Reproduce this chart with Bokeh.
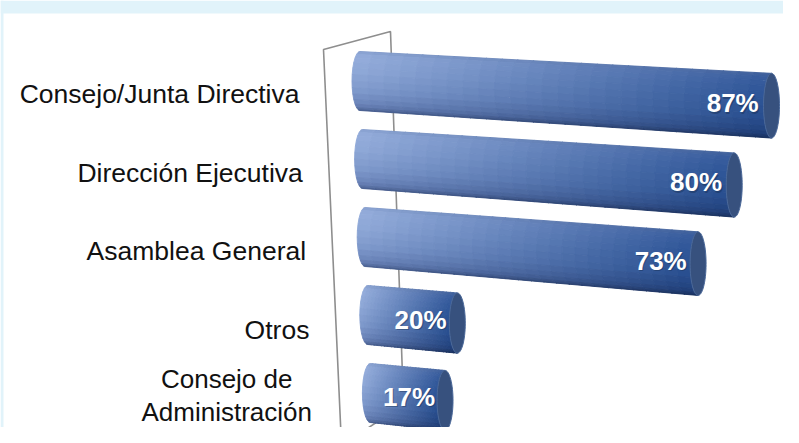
import numpy as np
from bokeh.plotting import figure
from bokeh.models import Range1d, ColumnDataSource
from bokeh.core.properties import value
from bokeh.embed import file_html
from bokeh.resources import INLINE

# ---------------- data ----------------
categories = ["Consejo/Junta Directiva", "Dirección Ejecutiva", "Asamblea General",
              "Otros", "Consejo de\nAdministración"]
values = [87, 80, 73, 20, 17]
value_labels = ["87%", "80%", "73%", "20%", "17%"]

# ---------------- view geometry (3D look) ----------------
W, H = 783, 427
X0, KX = 359.5, 4.73      # x scale: pixels per percent
Y0, KY = 80.5, 78.0       # y scale: pixels per category step
A = 8.0                   # ellipse semi-axis of cylinder ends

def to_data(X, Y):
    return (np.asarray(X, dtype=float) - X0) / KX, (np.asarray(Y, dtype=float) - Y0) / KY

def row_geom(i):
    return X0 + 2.6 * i, KX - 0.085 * i, Y0 + KY * i, 0.06 + 0.01 * i

def axis_pt(i, v):
    XL, k, YL, s = row_geom(i)
    dx = k * np.asarray(v, dtype=float)
    return XL + dx, YL + s * dx, 29.5 + 0.007 * dx

def surf(i, v, phi):
    Xa, Yc, h = axis_pt(i, v)
    return Xa - A * np.sin(phi), Yc - h * np.cos(phi)

PHI_S = np.linspace(0, 1, 6)
LEFT = np.array([(128, 153, 200), (150, 174, 220), (144, 169, 216),
                 (129, 155, 205), (106, 131, 184), (68, 90, 138)], float)
RIGHT = np.array([(70, 100, 155), (54, 91, 157), (45, 84, 150),
                  (40, 78, 143), (33, 65, 124), (22, 44, 88)], float)

def body_color(t, f):
    l = np.array([np.interp(f, PHI_S, LEFT[:, c]) for c in range(3)])
    r = np.array([np.interp(f, PHI_S, RIGHT[:, c]) for c in range(3)])
    c = l + (r - l) * t
    return "#%02x%02x%02x" % tuple(int(round(x)) for x in c)

xr = to_data([0, W], [0, 0])[0]
yr = to_data([0, 0], [H, 0])[1]
p = figure(width=W, height=H, x_range=Range1d(xr[0], xr[1]), y_range=Range1d(yr[0], yr[1]),
           output_backend="svg", toolbar_location=None, min_border=0)
p.axis.visible = False
p.grid.visible = False
p.outline_line_color = None
p.background_fill_color = "white"
p.border_fill_color = "white"

# light blue frame (top band and thin left strip)
bx, by = to_data([0, W], [0, 13])
p.quad(left=bx[0], right=bx[1], top=by[0], bottom=by[1], fill_color="#e1f3fa", line_color=None)
sx_, sy_ = to_data([0, 3], [0, H])
p.quad(left=sx_[0], right=sx_[1], top=sy_[0], bottom=sy_[1], fill_color="#e1f3fa", line_color=None)

# side wall outline
wx, wy = to_data([341, 323, 390, 403, 341], [445, 49, 31, 404, 445])
p.line(wx, wy, line_color="#8e8e8e", line_width=1.6)

# cylinders
NX, NY = 26, 14
xs, ys, cols = [], [], []
cap_xs, cap_ys = [], []
for i, val in enumerate(values):
    for a in range(NX):
        v0, v1 = val * a / NX, val * (a + 1) / NX
        t = (a + 0.5) / NX
        for b in range(NY):
            f0, f1 = b / NY, (b + 1) / NY
            p0, p1 = np.pi * f0, np.pi * f1
            c00, c10 = surf(i, v0, p0), surf(i, v1, p0)
            c11, c01 = surf(i, v1, p1), surf(i, v0, p1)
            dxq, dyq = to_data([c00[0], c10[0], c11[0], c01[0]], [c00[1], c10[1], c11[1], c01[1]])
            xs.append(list(dxq)); ys.append(list(dyq))
            cols.append(body_color(t, (f0 + f1) / 2))
    ph = np.linspace(0, 2 * np.pi, 64)
    Xc, Yc = surf(i, val, ph)
    cx, cy = to_data(Xc, Yc)
    cap_xs.append(list(cx)); cap_ys.append(list(cy))

p.patches(xs, ys, fill_color=cols, line_color=cols, line_width=0.9)
p.patches(cap_xs, cap_ys, fill_color="#37517e", line_color="#4a6899", line_width=1)

# value labels inside bars
lx, ly = [], []
for i, val in enumerate(values):
    Xa, Yc, _ = axis_pt(i, val - 8.2)
    dx_, dy_ = to_data(Xa, Yc)
    lx.append(float(dx_)); ly.append(float(dy_))
shx, shy = to_data(np.array(lx) * KX + X0 + 1.2, np.array(ly) * KY + Y0 + 1.2)
p.text(x=list(shx), y=list(shy), text=value_labels, text_color="#10243f", text_alpha=0.35,
       text_font=value("Liberation Sans"), text_font_style="bold", text_font_size="26px",
       text_align="center", text_baseline="middle")
p.text(x=lx, y=ly, text=value_labels, text_color="white",
       text_font=value("Liberation Sans"), text_font_style="bold", text_font_size="26px",
       text_align="center", text_baseline="middle")

# category labels
single = {"x": [], "y": [], "t": []}
multi = {"x": [], "y": [], "t": []}
for i, cat in enumerate(categories):
    Xr = 299.0 + 3.3 * i
    Ym = 93.5 + 78.5 * i
    if "\n" in cat:
        dx_, dy_ = to_data(Xr - 86, Ym - 13)
        multi["x"].append(float(dx_)); multi["y"].append(float(dy_)); multi["t"].append(cat)
    else:
        dx_, dy_ = to_data(Xr, Ym)
        single["x"].append(float(dx_)); single["y"].append(float(dy_)); single["t"].append(cat)

p.text(x="x", y="y", text="t", source=ColumnDataSource(single), text_color="#111111",
       text_font=value("Liberation Sans"), text_font_size="26.5px",
       text_align="right", text_baseline="middle")
p.text(x="x", y="y", text="t", source=ColumnDataSource(multi), text_color="#111111",
       text_font=value("Liberation Sans"), text_font_size="26px",
       text_align="center", text_baseline="middle", text_line_height=1.1)

open("out.html", "w").write(file_html(p, INLINE))
